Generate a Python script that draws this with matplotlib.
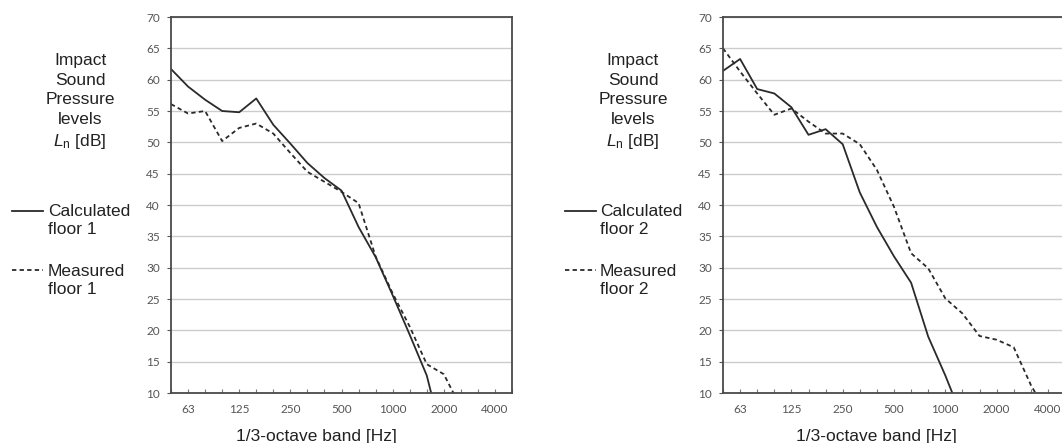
import numpy as np
import matplotlib.pyplot as plt
from matplotlib.lines import Line2D

plt.rcParams['font.family'] = ['Liberation Sans', 'DejaVu Sans']
plt.rcParams['mathtext.fontset'] = 'custom'
plt.rcParams['mathtext.rm'] = 'Liberation Sans'
plt.rcParams['mathtext.it'] = 'Liberation Sans:italic'

# 1/3-octave bands, 50 Hz .. 5000 Hz
bands = ["50", "63", "80", "100", "125", "160", "200", "250", "315", "400", "500",
         "630", "800", "1000", "1250", "1600", "2000", "2500", "3150", "4000", "5000"]
shown = ["63", "125", "250", "500", "1000", "2000", "4000"]

# values (dB), last point of each run falls below the axis
calc1 = [61.7, 58.9, 56.8, 55.0, 54.8, 57.0, 52.8, 49.8, 46.7, 44.3, 42.3,
         36.5, 31.7, 25.6, 19.3, 12.8, 2.0]
meas1 = [56.1, 54.6, 55.0, 50.2, 52.3, 53.0, 51.4, 48.3, 45.3, 43.7, 42.1,
         40.3, 31.8, 25.9, 20.6, 14.6, 13.0, 7.7]
calc2 = [61.4, 63.3, 58.5, 57.8, 55.6, 51.2, 52.1, 49.7, 42.0, 36.5, 31.8,
         27.6, 19.0, 12.8, 6.0]
meas2 = [65.0, 61.3, 57.8, 54.4, 55.4, 53.3, 51.4, 51.4, 49.7, 45.6, 39.7,
         32.3, 29.9, 25.1, 22.7, 19.1, 18.5, 17.3, 11.3, 6.5]

W, H = 1062, 443
fig = plt.figure(figsize=(W / 100, H / 100), dpi=100)

LC = '#2a2a2a'
DASH = (2.4, 1.8)
FS = 12.5


def box(x0, x1, y0, y1):
    return [x0 / W, 1 - y1 / H, (x1 - x0) / W, (y1 - y0) / H]


def panel(rect, calc, meas):
    ax = fig.add_axes(rect)
    x = np.arange(len(bands))
    ax.plot(x[:len(calc)], calc, color=LC, lw=1.3)
    ax.plot(x[:len(meas)], meas, color=LC, lw=1.3, dashes=DASH)
    ax.set_xlim(0, len(bands) - 1)
    ax.set_ylim(10, 70)
    ax.set_yticks(np.arange(10, 71, 5))
    ax.yaxis.grid(True, color='#cccccc', lw=1)
    ax.set_axisbelow(True)
    ax.set_xticks(x)
    ax.set_xticklabels([b if b in shown else "" for b in bands])
    ax.tick_params(axis='x', direction='in', length=3, width=0.8, color='#777777',
                   pad=8, labelsize=8.5, labelcolor='#555555')
    ax.tick_params(axis='y', direction='out', length=3, width=0.8, color='#555555',
                   pad=5, labelsize=8.5, labelcolor='#555555')
    for lab in ax.get_xticklabels() + ax.get_yticklabels():
        lab.set_fontfamily('Lato')
    for s in ax.spines.values():
        s.set_color('#4a4a4a')
        s.set_linewidth(1.3)
    return ax


ax1 = panel(box(171, 512, 17, 393), calc1, meas1)
ax2 = panel(box(723, 1065, 17, 393), calc2, meas2)


def fx(px):
    return px / W


def fy(py):
    return 1 - py / H


def side(cx, lx0, lx1, tx, floor, xc):
    fig.text(fx(cx), fy(102),
             "Impact\nSound\nPressure\nlevels\n$\\mathit{L}_\\mathrm{n}$ [dB]",
             ha='center', va='center', fontsize=FS, linespacing=1.38, color='#222222')
    fig.add_artist(Line2D([fx(lx0), fx(lx1)], [fy(211), fy(211)], color=LC, lw=1.3))
    fig.add_artist(Line2D([fx(lx0), fx(lx1)], [fy(270), fy(270)], color=LC, lw=1.3,
                          dashes=DASH))
    fig.text(fx(tx), fy(220.5), "Calculated\nfloor %d" % floor, ha='left', va='center',
             fontsize=FS, linespacing=1.25, color='#222222')
    fig.text(fx(tx), fy(280), "Measured\nfloor %d" % floor, ha='left', va='center',
             fontsize=FS, linespacing=1.25, color='#222222')
    fig.text(fx(xc), fy(437), "1/3-octave band [Hz]", ha='center', va='center',
             fontsize=FS, color='#222222')


side(80, 12, 43, 48, 1, 316)
side(633, 565, 596, 600, 2, 876)

plt.savefig("out.png", dpi=100)
